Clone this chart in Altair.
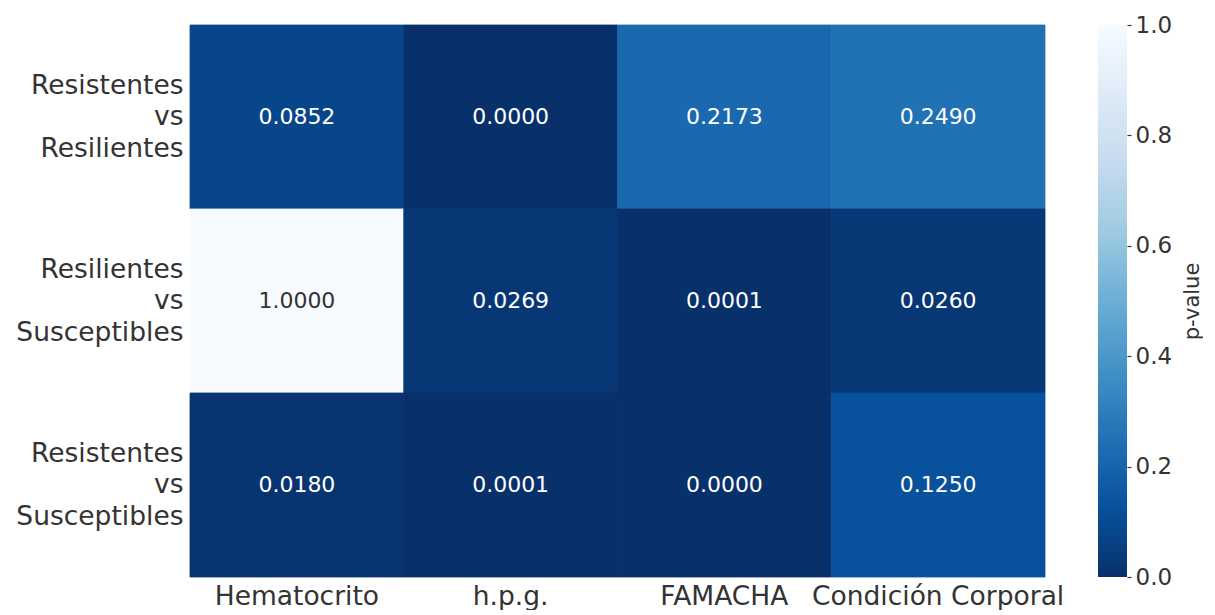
import altair as alt
import pandas as pd

rows = ["Resistentes vs Resilientes", "Resilientes vs Susceptibles", "Resistentes vs Susceptibles"]
cols = ["Hematocrito", "h.p.g.", "FAMACHA", "Condición Corporal"]
row1 = [0.0852, 0.0000, 0.2173, 0.2490]
row2 = [1.0000, 0.0269, 0.0001, 0.0260]
row3 = [0.0180, 0.0001, 0.0000, 0.1250]
legend_ticks = [0.0, 0.2, 0.4, 0.6, 0.8, 1.0]

blues_r = ["#08306b", "#08519c", "#2171b5", "#4292c6", "#6baed6",
           "#9ecae1", "#c6dbef", "#deebf7", "#f7fbff"]
stops = [i / 8 for i in range(9)]

records = []
for r, vals in zip(rows, [row1, row2, row3]):
    for c, v in zip(cols, vals):
        records.append({"cmp": r, "var": c, "p": v})
df = pd.DataFrame(records)

FONT = "DejaVu Sans"
TXT = "#333333"
H = 552

base = alt.Chart(df).encode(
    x=alt.X("var:N", sort=cols, title=None,
            scale=alt.Scale(paddingInner=0, paddingOuter=0),
            axis=alt.Axis(labelAngle=0, labelFontSize=26.5, labelColor=TXT,
                          labelFont=FONT, ticks=False, domain=False,
                          labelPadding=6, labelLimit=400)),
    y=alt.Y("cmp:N", sort=rows, title=None,
            scale=alt.Scale(paddingInner=0, paddingOuter=0),
            axis=alt.Axis(labelFontSize=26.5, labelColor=TXT, labelFont=FONT,
                          ticks=False, domain=False, labelPadding=7,
                          labelLimit=400, labelLineHeight=31.5, labelOffset=-31.5,
                          labelExpr="split(datum.label, ' ')",
                          minExtent=182, maxExtent=182)),
)

cscale = alt.Scale(domain=stops, range=blues_r, interpolate="rgb")
rects = base.mark_rect(strokeWidth=0.8).encode(
    color=alt.Color("p:Q", scale=cscale, legend=None),
    stroke=alt.Stroke("p:Q", scale=cscale, legend=None),
)

texts = base.mark_text(fontSize=22, font=FONT).encode(
    text=alt.Text("p:Q", format=".4f"),
    color=alt.condition("datum.p > 0.6", alt.value(TXT), alt.value("#ffffff")),
)

heat = (rects + texts).properties(width=855, height=H)

# colour bar
cb_df = pd.DataFrame({"lo": [legend_ticks[0]], "hi": [legend_ticks[-1]]})
gradient = alt.LinearGradient(
    gradient="linear",
    stops=[alt.GradientStop(color=c, offset=o) for c, o in zip(blues_r, stops)],
    x1=0, x2=0, y1=1, y2=0,
)
colorbar = alt.Chart(cb_df).mark_rect(fill=gradient).encode(
    x=alt.value(0), x2=alt.value(29),
    y=alt.Y("lo:Q", scale=alt.Scale(domain=[0, 1], nice=False, zero=False),
            axis=alt.Axis(orient="right", values=legend_ticks, format=".1f",
                          domain=False, grid=False, ticks=True, tickSize=4,
                          tickColor=TXT, tickWidth=1.2,
                          labelFontSize=23, labelColor=TXT, labelFont=FONT,
                          labelPadding=4,
                          title="p-value", titleFontSize=21, titleFontWeight="normal",
                          titleColor=TXT, titleFont=FONT, titleAngle=270,
                          titleBaseline="top", titlePadding=10)),
    y2="hi:Q",
).properties(width=29, height=H)

chart = alt.hconcat(heat, colorbar, spacing=53, bounds="flush").properties(
    padding={"left": 0, "top": 6, "right": 0, "bottom": 0},
).configure_view(stroke=None)

chart.save("out.html", embed_options={"renderer": "svg", "actions": False})
